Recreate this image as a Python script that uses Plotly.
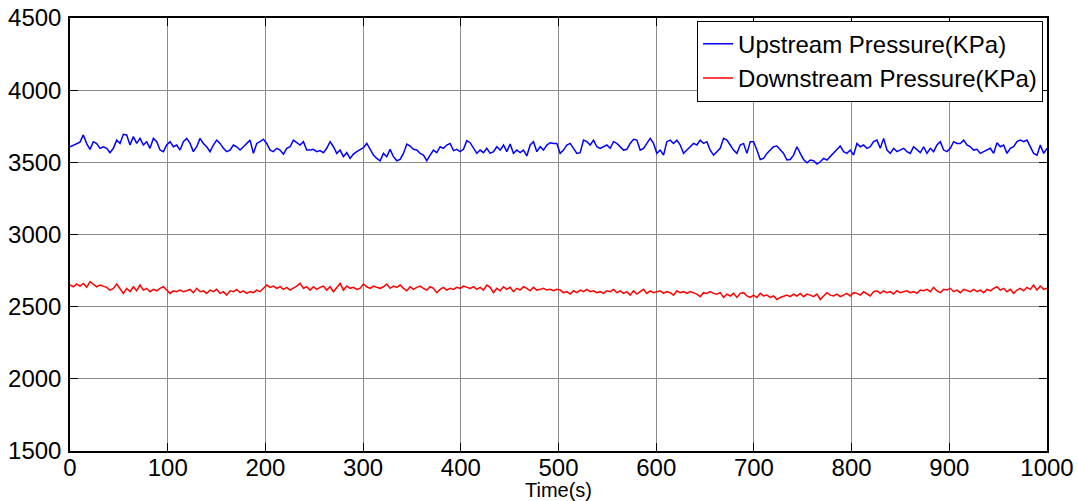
import numpy as np
import plotly.graph_objects as go

upstream = [
    3608, 3620, 3630, 3640, 3690, 3630, 3590, 3643, 3630, 3597, 3608, 3597, 3567, 3597, 3654, 3631, 3694, 3690,
    3620, 3678, 3631, 3666, 3620, 3643, 3597, 3666, 3643, 3585, 3574, 3620, 3643, 3608, 3620, 3585, 3643, 3666,
    3631, 3574, 3608, 3666, 3631, 3608, 3574, 3620, 3654, 3631, 3597, 3574, 3585, 3620, 3608, 3585, 3608, 3631,
    3654, 3562, 3631, 3643, 3660, 3631, 3585, 3574, 3597, 3585, 3557, 3597, 3608, 3654, 3636, 3620, 3643, 3585,
    # 245 .. 490
    3585, 3590, 3574, 3581, 3567, 3597, 3643, 3608, 3562, 3585, 3539, 3567, 3527, 3557, 3574, 3585, 3601, 3631,
    3590, 3550, 3527, 3511, 3562, 3539, 3590, 3539, 3511, 3520, 3562, 3627, 3613, 3590, 3585, 3562, 3550, 3511,
    3550, 3585, 3567, 3608, 3597, 3620, 3631, 3581, 3590, 3574, 3590, 3650, 3636, 3597, 3562, 3585, 3567, 3597,
    3562, 3574, 3608, 3585, 3620, 3574, 3627, 3562, 3585, 3567, 3585, 3544, 3620, 3643, 3574, 3608, 3585, 3620,
    # 490 .. 735
    3636, 3631, 3631, 3562, 3585, 3620, 3631, 3597, 3562, 3567, 3654, 3643, 3620, 3654, 3608, 3597, 3608, 3620,
    3597, 3643, 3631, 3608, 3585, 3590, 3631, 3659, 3654, 3585, 3597, 3631, 3666, 3631, 3562, 3585, 3550, 3643,
    3654, 3631, 3654, 3620, 3562, 3585, 3608, 3631, 3620, 3654, 3631, 3643, 3585, 3550, 3574, 3597, 3666, 3654,
    3620, 3585, 3562, 3620, 3631, 3562, 3643, 3643, 3585, 3520, 3527, 3562, 3585, 3608, 3613, 3585, 3562, 3516,
    # 735 .. 1000
    3520, 3550, 3608, 3562, 3520, 3497, 3516, 3511, 3488, 3504, 3527, 3516, 3539, 3562, 3585, 3613, 3574, 3562,
    3585, 3550, 3631, 3608, 3620, 3597, 3608, 3643, 3654, 3597, 3666, 3585, 3562, 3597, 3574, 3585, 3597, 3574,
    3562, 3608, 3585, 3567, 3608, 3562, 3597, 3574, 3620, 3643, 3585, 3574, 3597, 3643, 3631, 3631, 3654, 3620,
    3608, 3585, 3590, 3562, 3574, 3585, 3597, 3562, 3636, 3608, 3620, 3562, 3597, 3608, 3643, 3654, 3643, 3654,
    3608, 3562, 3550, 3620, 3562, 3597,
]

# Downstream pressure (KPa)
downstream = [
    2650, 2638, 2657, 2643, 2661, 2634, 2673, 2657, 2638, 2650, 2643, 2634, 2615, 2627, 2657, 2627, 2592, 2627,
    2604, 2638, 2610, 2650, 2615, 2627, 2604, 2620, 2610, 2627, 2638, 2615, 2592, 2610, 2604, 2615, 2604, 2610,
    2620, 2597, 2627, 2604, 2610, 2592, 2615, 2604, 2620, 2592, 2604, 2580, 2610, 2604, 2620, 2597, 2610, 2592,
    2604, 2597, 2615, 2604, 2627, 2650, 2634, 2643, 2627, 2638, 2620, 2634, 2615, 2627, 2643, 2661, 2627, 2638,
    2615, 2638, 2620, 2634, 2643, 2615, 2638, 2604, 2634, 2661, 2615, 2643, 2627, 2634, 2620, 2627, 2657, 2638,
    2627, 2643, 2634, 2627, 2638, 2657, 2627, 2643, 2634, 2650, 2627, 2610, 2638, 2620, 2634, 2643, 2627, 2615,
    2638, 2627, 2597, 2620, 2634, 2615, 2627, 2620, 2634, 2627, 2643, 2634, 2627, 2638, 2620, 2634, 2615, 2650,
    2634, 2597, 2627, 2610, 2638, 2620, 2634, 2604, 2627, 2615, 2638, 2627, 2610, 2634, 2615, 2620, 2627, 2615,
    2620, 2610, 2620,
    # 500 .. 1000
    2615, 2597, 2604, 2587, 2610, 2597, 2615, 2604, 2620, 2604, 2610, 2597, 2604, 2592, 2610, 2604, 2620, 2597,
    2610, 2592, 2604, 2580, 2610, 2587, 2604, 2620, 2592, 2610, 2597, 2604, 2610, 2592, 2604, 2597, 2580, 2610,
    2597, 2604, 2592, 2604, 2597, 2587, 2569, 2597, 2592, 2604, 2592, 2587, 2597, 2564, 2587, 2574, 2592, 2564,
    2592, 2597, 2574, 2564, 2580, 2564, 2592, 2574, 2580, 2564, 2574, 2550, 2564, 2574, 2580, 2569, 2587, 2574,
    2592, 2569, 2587, 2580, 2569, 2587, 2550, 2574, 2597, 2580, 2574, 2587, 2569, 2580, 2592, 2574, 2597, 2592,
    2580, 2604, 2587, 2574, 2604, 2610, 2592, 2610, 2597, 2604, 2587, 2610, 2597, 2604, 2610, 2597, 2604, 2592,
    2615, 2610, 2620, 2604, 2634, 2610, 2597, 2620, 2615, 2627, 2604, 2615, 2597, 2620, 2610, 2604, 2620, 2604,
    2615, 2597, 2620, 2610, 2627, 2638, 2615, 2627, 2604, 2620, 2592, 2615, 2627, 2610, 2634, 2620, 2650, 2615,
    2643, 2620, 2627,
]

time_up = np.linspace(0, 1000, len(upstream))
time_down = np.linspace(0, 1000, len(downstream))

x_ticks = [0, 100, 200, 300, 400, 500, 600, 700, 800, 900, 1000]
y_ticks = [1500, 2000, 2500, 3000, 3500, 4000, 4500]

FONT = "Liberation Sans, Arial, sans-serif"

fig = go.Figure()
fig.add_trace(go.Scatter(x=time_up, y=upstream, mode="lines",
                         name="Upstream Pressure(KPa)",
                         line=dict(color="#0000ff", width=1.5)))
fig.add_trace(go.Scatter(x=time_down, y=downstream, mode="lines",
                         name="Downstream Pressure(KPa)",
                         line=dict(color="#ff0000", width=1.5)))

axis_common = dict(
    showgrid=True, gridcolor="#8c8c8c", gridwidth=1,
    showline=True, linecolor="black", linewidth=1.5, mirror="ticks",
    ticks="inside", ticklen=8, tickcolor="black",
    zeroline=False, automargin=False,
    tickfont=dict(family=FONT, size=24, color="black"),
)

fig.update_xaxes(range=[0, 1000], tickvals=x_ticks, ticklabelstandoff=-6,
                 title=dict(text="Time(s)", font=dict(family=FONT, size=20, color="black"), standoff=0),
                 **axis_common)
fig.update_yaxes(range=[1500, 4500], tickvals=y_ticks, ticklabelstandoff=2, **axis_common)

fig.update_layout(
    width=1078, height=501,
    margin=dict(l=70, r=31, t=18, b=50),
    paper_bgcolor="white", plot_bgcolor="white",
    showlegend=True,
    legend=dict(
        x=0.996, y=0.994, xanchor="right", yanchor="top",
        bgcolor="white", bordercolor="black", borderwidth=1,
        font=dict(family=FONT, size=24, color="black"),
        itemwidth=30, tracegroupgap=0,
    ),
    font=dict(family=FONT),
)

fig.write_html("out.html")
